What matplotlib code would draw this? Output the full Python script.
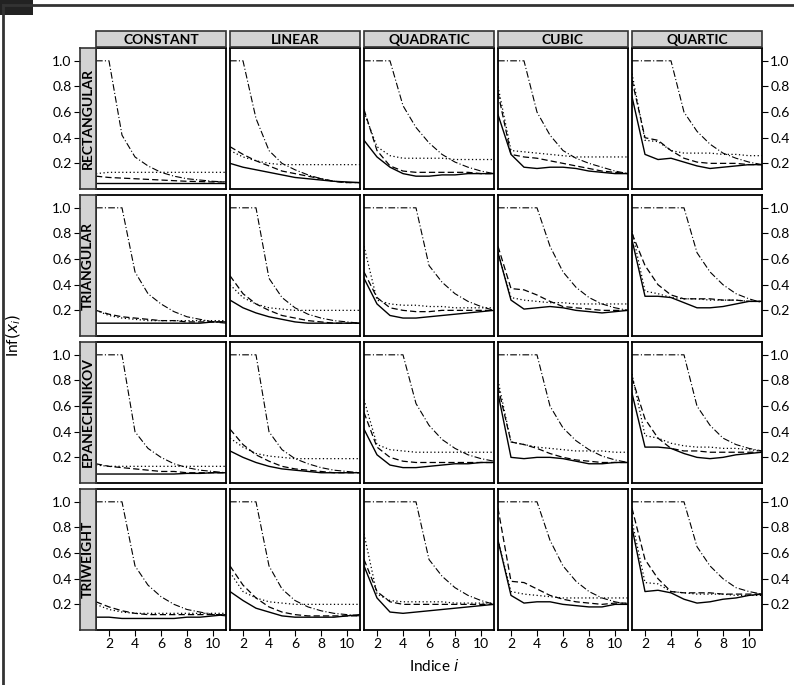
import numpy as np
import matplotlib.pyplot as plt
from matplotlib.patches import Rectangle

plt.rcParams['font.family'] = ['Lato', 'DejaVu Sans']

x = np.arange(1, 12)
columns = ['CONSTANT', 'LINEAR', 'QUADRATIC', 'CUBIC', 'QUARTIC']
rows = ['RECTANGULAR', 'TRIANGULAR', 'EPANECHNIKOV', 'TRIWEIGHT']

# per panel: solid, dashed, dotted, dashdot
rect = [
    [[.05]*11,
     [.10, .09, .085, .08, .075, .07, .065, .06, .058, .055, .055],
     [.12, .13, .13, .13, .13, .13, .13, .13, .13, .13, .13],
     [1, 1, .42, .25, .18, .13, .10, .08, .07, .06, .055]],
    [[.20, .17, .15, .13, .11, .09, .08, .07, .06, .055, .05],
     [.33, .27, .22, .18, .14, .12, .10, .08, .06, .05, .05],
     [.30, .25, .22, .20, .19, .19, .19, .19, .19, .19, .19],
     [1, 1, .55, .30, .20, .15, .11, .08, .06, .05, .05]],
    [[.38, .25, .17, .12, .10, .10, .11, .11, .12, .12, .12],
     [.62, .30, .18, .14, .13, .13, .13, .13, .13, .12, .12],
     [.60, .33, .26, .24, .24, .24, .24, .23, .23, .23, .23],
     [1, 1, 1, .65, .48, .36, .27, .21, .17, .14, .12]],
    [[.58, .27, .17, .16, .17, .17, .16, .14, .13, .12, .12],
     [.75, .27, .25, .24, .22, .20, .18, .16, .14, .13, .12],
     [.80, .30, .29, .28, .27, .26, .25, .25, .25, .25, .25],
     [1, 1, 1, .60, .42, .30, .24, .20, .17, .14, .12]],
    [[.72, .27, .23, .24, .21, .18, .16, .17, .18, .19, .19],
     [.85, .40, .38, .30, .24, .21, .20, .20, .20, .19, .19],
     [.90, .38, .37, .30, .28, .28, .28, .27, .27, .26, .26],
     [1, 1, 1, 1, .60, .45, .35, .28, .24, .21, .19]],
]
tri = [
    [[.10, .10, .10, .10, .10, .10, .10, .10, .10, .11, .11],
     [.20, .17, .15, .14, .13, .12, .12, .11, .11, .11, .11],
     [.20, .16, .14, .13, .12, .12, .12, .12, .12, .12, .12],
     [1, 1, 1, .50, .33, .25, .19, .15, .13, .11, .10]],
    [[.28, .22, .18, .15, .13, .11, .10, .10, .10, .10, .10],
     [.47, .33, .25, .20, .16, .14, .12, .11, .10, .10, .10],
     [.40, .30, .25, .22, .21, .20, .20, .20, .20, .20, .20],
     [1, 1, 1, .45, .30, .22, .17, .14, .12, .11, .10]],
    [[.45, .25, .16, .14, .14, .15, .16, .17, .18, .19, .20],
     [.50, .30, .22, .20, .19, .19, .20, .20, .20, .20, .20],
     [.70, .28, .25, .24, .24, .23, .23, .22, .22, .22, .22],
     [1, 1, 1, 1, 1, .55, .42, .33, .27, .23, .20]],
    [[.65, .28, .21, .22, .23, .22, .20, .19, .18, .19, .20],
     [.70, .37, .36, .32, .27, .23, .22, .21, .20, .20, .20],
     [.65, .30, .28, .27, .26, .26, .25, .25, .25, .25, .25],
     [1, 1, 1, 1, .70, .50, .38, .30, .25, .22, .20]],
    [[.75, .31, .31, .30, .26, .22, .22, .23, .25, .27, .27],
     [.80, .55, .40, .32, .29, .29, .29, .28, .28, .27, .27],
     [.82, .35, .33, .30, .29, .29, .28, .28, .28, .27, .27],
     [1, 1, 1, 1, 1, .65, .50, .40, .33, .29, .26]],
]
epa = [
    [[.07, .07, .07, .07, .07, .07, .07, .075, .075, .08, .08],
     [.15, .13, .12, .11, .10, .09, .09, .08, .08, .08, .08],
     [.14, .13, .13, .13, .13, .13, .13, .13, .13, .13, .13],
     [1, 1, 1, .40, .27, .20, .15, .12, .10, .09, .08]],
    [[.25, .20, .16, .13, .11, .10, .09, .08, .08, .08, .08],
     [.42, .30, .22, .17, .13, .11, .10, .09, .08, .08, .08],
     [.35, .28, .23, .21, .20, .19, .19, .19, .19, .19, .19],
     [1, 1, 1, .40, .26, .19, .15, .12, .10, .09, .08]],
    [[.42, .22, .14, .12, .12, .13, .14, .15, .15, .16, .16],
     [.55, .28, .20, .17, .16, .16, .16, .16, .16, .16, .16],
     [.65, .30, .26, .25, .24, .24, .24, .24, .24, .24, .24],
     [1, 1, 1, 1, .62, .45, .34, .27, .22, .19, .17]],
    [[.70, .20, .19, .20, .20, .19, .17, .15, .15, .16, .16],
     [.75, .32, .30, .27, .23, .20, .18, .17, .16, .16, .16],
     [.80, .32, .30, .28, .27, .26, .25, .25, .25, .24, .24],
     [1, 1, 1, 1, .60, .43, .33, .26, .21, .18, .16]],
    [[.70, .28, .28, .27, .23, .20, .19, .20, .22, .23, .24],
     [.82, .50, .35, .27, .25, .25, .24, .24, .24, .24, .24],
     [.85, .37, .35, .31, .29, .28, .28, .27, .27, .26, .25],
     [1, 1, 1, 1, 1, .60, .45, .35, .30, .27, .25]],
]
triw = [
    [[.10, .10, .09, .09, .09, .09, .09, .10, .10, .11, .12],
     [.22, .18, .15, .13, .12, .12, .12, .12, .12, .12, .12],
     [.20, .16, .14, .13, .13, .13, .13, .13, .13, .13, .13],
     [1, 1, 1, .50, .35, .26, .20, .16, .14, .12, .11]],
    [[.30, .23, .17, .14, .11, .10, .10, .10, .10, .11, .12],
     [.50, .35, .25, .18, .14, .12, .11, .11, .11, .11, .11],
     [.45, .30, .25, .22, .21, .20, .20, .20, .20, .20, .20],
     [1, 1, 1, .50, .32, .23, .18, .15, .13, .12, .11]],
    [[.50, .25, .14, .13, .14, .15, .16, .17, .18, .19, .20],
     [.55, .30, .22, .20, .20, .20, .20, .20, .20, .20, .20],
     [.75, .28, .23, .22, .22, .22, .22, .21, .21, .21, .21],
     [1, 1, 1, 1, 1, .55, .42, .33, .27, .23, .20]],
    [[.70, .27, .21, .22, .22, .20, .19, .18, .18, .20, .20],
     [.95, .38, .37, .32, .27, .24, .22, .21, .20, .21, .21],
     [.70, .30, .28, .27, .26, .25, .25, .25, .25, .25, .25],
     [1, 1, 1, 1, .70, .50, .38, .30, .25, .22, .20]],
    [[.80, .30, .31, .29, .24, .21, .22, .24, .25, .27, .28],
     [.95, .55, .40, .30, .29, .29, .29, .28, .28, .28, .28],
     [.85, .37, .36, .30, .29, .28, .28, .28, .27, .27, .27],
     [1, 1, 1, 1, 1, .65, .50, .40, .33, .30, .28]],
]
data = [rect, tri, epa, triw]
styles = [dict(ls='-', lw=1.0), dict(ls=(0, (5, 2.5)), lw=0.9),
          dict(ls=(0, (1, 2)), lw=0.9), dict(ls=(0, (6, 2, 1, 2)), lw=0.8)]

W, H = 794, 685
fig = plt.figure(figsize=(W / 100, H / 100), dpi=100)
lefts = [96, 230, 364, 498, 632]
tops = [48, 195, 342, 489]
pw, ph = 130, 141
grey = '#d3d3d3'
yt = [0.2, 0.4, 0.6, 0.8, 1.0]
fmt = plt.FuncFormatter(lambda v, p: f'{v:.1f}')

for r in range(4):
    for c in range(5):
        ax = fig.add_axes([lefts[c] / W, 1 - (tops[r] + ph) / H, pw / W, ph / H])
        for s, st in zip(data[r][c], styles):
            ax.plot(x, s, color='black', **st)
        ax.set_xlim(1, 11)
        ax.set_ylim(0, 1.1)
        ax.set_xticks([2, 4, 6, 8, 10])
        ax.set_yticks(yt)
        ax.tick_params(length=4, width=0.8, labelsize=10, pad=2,
                       labelbottom=(r == 3), bottom=(r == 3),
                       left=False, labelleft=False,
                       right=(c == 4), labelright=(c == 4))
        ax.yaxis.set_major_formatter(fmt)
        for sp in ax.spines.values():
            sp.set_linewidth(1.3)
        if r == 0:
            fig.add_artist(Rectangle((lefts[c] / W, 1 - 47 / H), pw / W, 16 / H,
                                     transform=fig.transFigure, facecolor=grey,
                                     edgecolor='#333333', lw=1.2))
            fig.text((lefts[c] + pw / 2) / W, 1 - 39.5 / H, columns[c],
                     ha='center', va='center', fontsize=10, fontweight='bold')
    # left tick axis sits outside the row strip
    tax = fig.add_axes([80 / W, 1 - (tops[r] + ph) / H, 16 / W, ph / H])
    tax.set_facecolor(grey)
    tax.set_ylim(0, 1.1)
    tax.set_yticks(yt)
    tax.yaxis.set_major_formatter(fmt)
    tax.set_xticks([])
    tax.tick_params(length=4, width=0.8, labelsize=10, pad=2)
    for sp in tax.spines.values():
        sp.set_linewidth(1.2)
        sp.set_color('#333333')
    tax.text(0.5, 0.5, rows[r], rotation=90, transform=tax.transAxes,
             ha='center', va='center', fontsize=10, fontweight='bold')

fig.text(434 / W, 1 - 666 / H, 'Indice $\\it{i}$', ha='center', va='center', fontsize=11)
fig.text(14 / W, 1 - 335 / H, 'Inf$(x_i)$', rotation=90, ha='center', va='center', fontsize=11)

# frame lines and tab
fig.add_artist(plt.Line2D([3 / W, 1], [1 - 5 / H, 1 - 5 / H], color='#333333', lw=2,
                          transform=fig.transFigure))
fig.add_artist(plt.Line2D([3 / W, 3 / W], [0, 1 - 5 / H], color='#333333', lw=2,
                          transform=fig.transFigure))
fig.add_artist(Rectangle((0, 1 - 15 / H), 33 / W, 15 / H, transform=fig.transFigure,
                         facecolor='#222222', edgecolor='none'))

fig.savefig('out.png', dpi=100)
